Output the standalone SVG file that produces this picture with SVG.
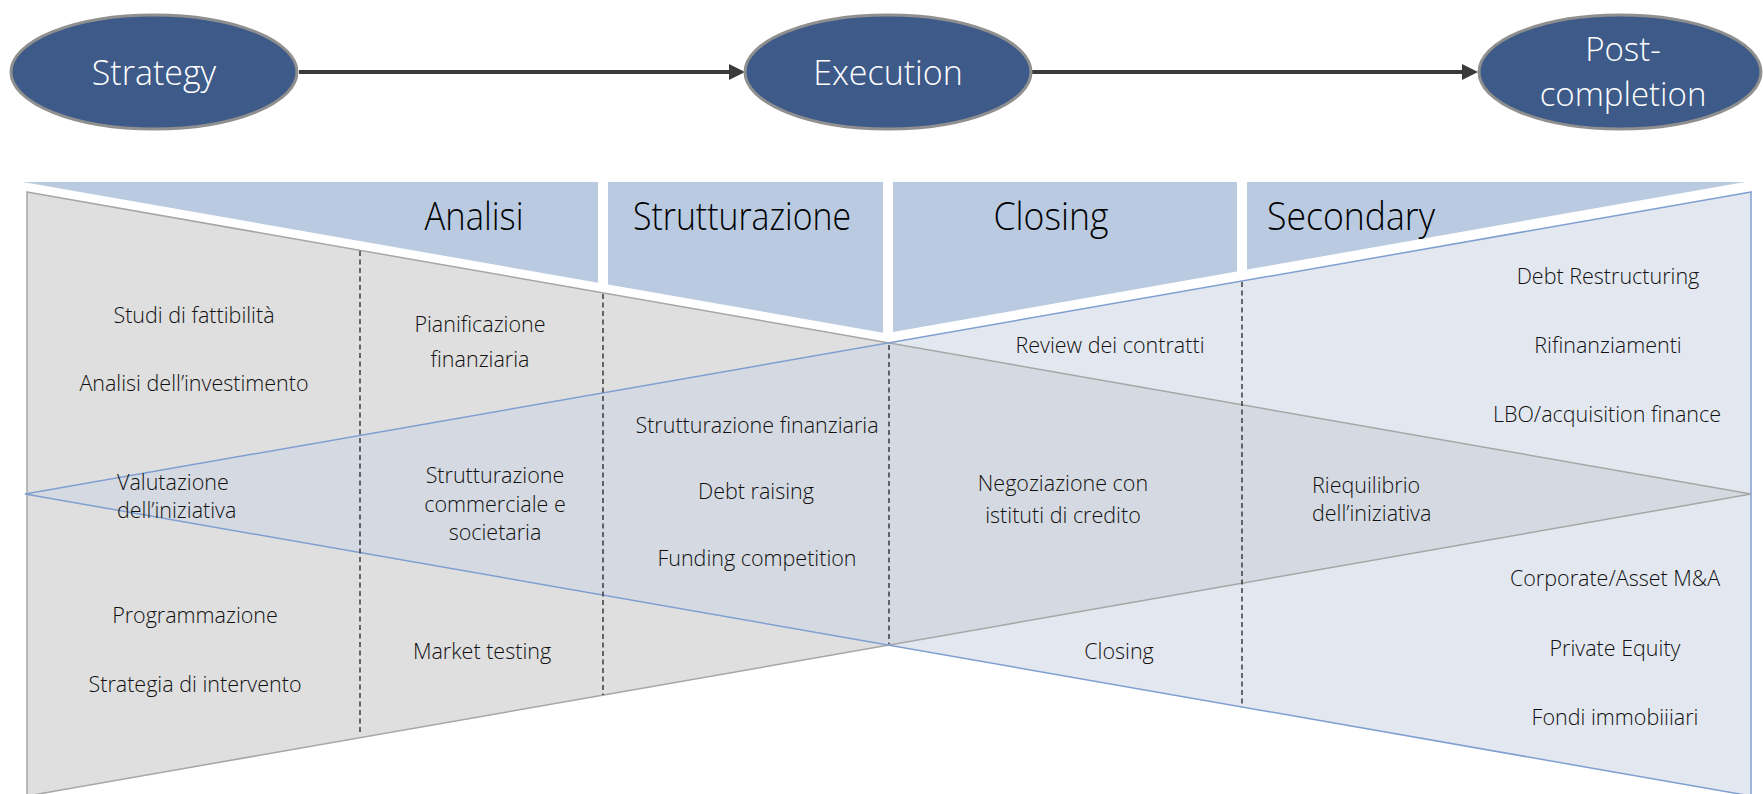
<svg xmlns="http://www.w3.org/2000/svg" width="1763" height="794" viewBox="0 0 1763 794">
<defs>
<style>
.ell{fill:#3d5a89;stroke:#8f8f8f;stroke-width:3}
.et{font-family:"Open Sans","Noto Sans",sans-serif;font-weight:300;font-size:34px;fill:#ffffff;text-anchor:middle}
.et2{font-size:33px}
.hdr{fill:#b9cae1}
.ht{font-family:"Open Sans","Noto Sans",sans-serif;font-weight:300;font-size:38px;fill:#000000;text-anchor:middle}
.bt{font-family:"Open Sans","Noto Sans",sans-serif;font-weight:300;font-size:21.5px;fill:#111111;text-anchor:middle}
.bl{text-anchor:start}
.dash{stroke:#222222;stroke-width:1.3;stroke-dasharray:5 3.5;fill:none}
.conn{stroke:#3a3a3a;stroke-width:4;fill:none}
</style>
<marker id="ah" markerUnits="userSpaceOnUse" viewBox="0 0 16 16" markerWidth="16" markerHeight="16" refX="0" refY="8" orient="auto">
<path d="M0,0 L16,8 L0,16 z" fill="#3a3a3a"/>
</marker>
</defs>
<rect width="1763" height="794" fill="#ffffff"/>

<g id="connectors">
<line class="conn" x1="299" y1="72" x2="729" y2="72" marker-end="url(#ah)"/>
<line class="conn" x1="1032" y1="72" x2="1462" y2="72" marker-end="url(#ah)"/>
</g>

<g id="node-strategy">
<ellipse class="ell" cx="154" cy="72" rx="143" ry="57"/>
<text class="et" x="154" y="85">Strategy</text>
</g>
<g id="node-execution">
<ellipse class="ell" cx="888" cy="72" rx="143" ry="57"/>
<text class="et" x="888" y="85">Execution</text>
</g>
<g id="node-post-completion">
<ellipse class="ell" cx="1620" cy="72" rx="141" ry="57"/>
<text class="et et2" x="1623" y="61">Post-</text>
<text class="et et2" x="1623" y="106">completion</text>
</g>

<g id="header">
<polygon class="hdr" points="23,182 598,182 598,282.7"/>
<polygon class="hdr" points="608,182 883,182 883,332.7 608,284.5"/>
<polygon class="hdr" points="893,182 1237,182 1237,271.4 893,332"/>
<polygon class="hdr" points="1247,182 1745,182 1247,269.6"/>
<text class="ht" x="474" y="230" textLength="99" lengthAdjust="spacingAndGlyphs">Analisi</text>
<text class="ht" x="742" y="230" textLength="218" lengthAdjust="spacingAndGlyphs">Strutturazione</text>
<text class="ht" x="1051" y="230" textLength="115" lengthAdjust="spacingAndGlyphs">Closing</text>
<text class="ht" x="1351" y="230" textLength="168" lengthAdjust="spacingAndGlyphs">Secondary</text>
</g>

<g id="body">
<polygon points="27,192 1751,494 27,796" fill="#dfdfdf"/>
<polygon points="1751,192 25,494 1751,796" fill="#e3e8f0"/>
<polygon points="25,494 889,343 1751,494 889,645" fill="#d5dae2"/>
<polygon points="27,192 1751,494 27,796" fill="none" stroke="#a6a6a6" stroke-width="1.5"/>
<polygon points="1751,192 25,494 1751,796" fill="none" stroke="#7f9fd0" stroke-width="1.5"/>
</g>

<g id="dividers">
<line class="dash" x1="360" y1="251" x2="360" y2="735"/>
<line class="dash" x1="603" y1="294" x2="603" y2="695"/>
<line class="dash" x1="889" y1="345" x2="889" y2="644"/>
<line class="dash" x1="1242" y1="282" x2="1242" y2="706"/>
</g>

<g id="col-analisi">
<text class="bt" x="194" y="323">Studi di fattibilità</text>
<text class="bt" x="194" y="391">Analisi dell’investimento</text>
<text class="bt bl" x="117" y="490">Valutazione</text>
<text class="bt bl" x="117" y="518">dell’iniziativa</text>
<text class="bt" x="195" y="623">Programmazione</text>
<text class="bt" x="195" y="692">Strategia di intervento</text>
</g>
<g id="col-analisi-2">
<text class="bt" x="480" y="332">Pianificazione</text>
<text class="bt" x="480" y="367">finanziaria</text>
<text class="bt" x="495" y="483">Strutturazione</text>
<text class="bt" x="495" y="512">commerciale e</text>
<text class="bt" x="495" y="540">societaria</text>
<text class="bt" x="482" y="659">Market testing</text>
</g>
<g id="col-strutturazione">
<text class="bt" x="757" y="433">Strutturazione finanziaria</text>
<text class="bt" x="756" y="499">Debt raising</text>
<text class="bt" x="757" y="566">Funding competition</text>
</g>
<g id="col-closing">
<text class="bt" x="1110" y="353">Review dei contratti</text>
<text class="bt" x="1063" y="491">Negoziazione con</text>
<text class="bt" x="1063" y="523">istituti di credito</text>
<text class="bt" x="1119" y="659">Closing</text>
</g>
<g id="col-secondary">
<text class="bt bl" x="1312" y="493">Riequilibrio</text>
<text class="bt bl" x="1312" y="521">dell’iniziativa</text>
<text class="bt" x="1608" y="284">Debt Restructuring</text>
<text class="bt" x="1608" y="353">Rifinanziamenti</text>
<text class="bt" x="1607" y="422">LBO/acquisition finance</text>
<text class="bt" x="1615" y="586">Corporate/Asset M&amp;A</text>
<text class="bt" x="1615" y="656">Private Equity</text>
<text class="bt" x="1615" y="725">Fondi immobiiiari</text>
</g>
</svg>
